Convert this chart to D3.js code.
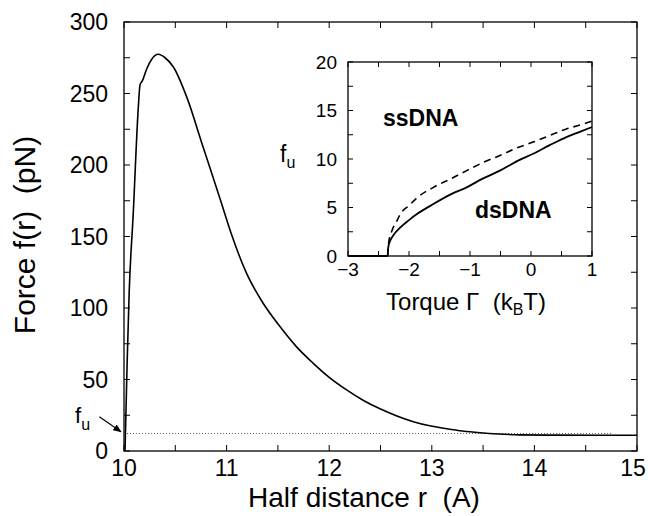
<!DOCTYPE html>
<html>
<head>
<meta charset="utf-8">
<title>Force vs half distance</title>
<style>
  body { margin: 0; background: #fff; }
  svg text { font-family: "Liberation Sans", Arial, Helvetica, sans-serif; fill: #000; }
</style>
</head>
<body>
<svg id="chart" width="648" height="516"></svg>
<script src="https://d3js.org/d3.v7.min.js"></script>
<script>
// main curve: half distance r (A) vs force f(r) (pN)
var distR = [10.01, 10.03, 10.05, 10.09, 10.14, 10.156, 10.18, 10.22, 10.27, 10.334, 10.40, 10.48, 10.61, 10.77, 10.94, 11.05, 11.196, 11.35, 11.52, 11.68, 11.845, 12.0, 12.17, 12.33, 12.495, 12.66, 12.82, 12.98, 13.145, 13.3, 13.47, 13.65, 13.86, 14.2, 14.6, 15.0];
var forceF = [0, 60, 110, 166, 241, 256, 259, 267, 274, 277.4, 275, 268.7, 247.8, 212.8, 175.5, 151, 124, 104, 87, 73, 61.3, 51.5, 42.7, 35.5, 29.5, 24.5, 20.5, 17.6, 15.6, 14, 12.8, 11.9, 11.3, 11.1, 11.0, 11.0];
var fuLevel = 12.2;

// inset: torque vs f_u
var torqueSolid = [-3, -2.35, -2.345, -2.33, -2.31, -2.25, -2.145, -2.0, -1.87, -1.6, -1.3, -1.054, -0.8, -0.51, -0.25, 0.035, 0.3, 0.58, 0.8, 1.0];
var fuSolid = [0, 0, 0.6, 1.2, 1.55, 2.2, 2.93, 3.7, 4.32, 5.36, 6.4, 7.08, 7.95, 8.8, 9.7, 10.54, 11.4, 12.26, 12.8, 13.3];
var torqueDashed = [-2.35, -2.33, -2.28, -2.2, -2.145, -2.0, -1.87, -1.6, -1.3, -1.054, -0.8, -0.51, -0.25, 0.035, 0.3, 0.58, 0.8, 1.0];
var fuDashed = [0, 1.5, 2.6, 3.6, 4.3, 5.2, 6.0, 7.08, 8.0, 8.8, 9.6, 10.36, 11.1, 11.74, 12.4, 13.1, 13.5, 13.9];

var xTicks = [10, 11, 12, 13, 14, 15];
var yTicks = [0, 50, 100, 150, 200, 250, 300];
var inXTicks = [-3, -2, -1, 0, 1];
var inYTicks = [0, 5, 10, 15, 20];

var svg = d3.select('#chart');

var x = d3.scaleLinear().domain([10, 15]).range([124, 637]);
var y = d3.scaleLinear().domain([0, 300]).range([451, 22]);

function frame(g, xs, ys, majX, minX, majY, minY, tl) {
    var x0 = xs.range()[0], x1 = xs.range()[1], y0 = ys.range()[0], y1 = ys.range()[1];
    g.append('rect').attr('x', x0).attr('y', y1).attr('width', x1 - x0).attr('height', y0 - y1)
        .attr('fill', '#fff').attr('stroke', '#000').attr('stroke-width', 1.3);
    var tx = majX.concat(minX), ty = majY.concat(minY);
    tx.forEach(function (v) {
        g.append('line').attr('x1', xs(v)).attr('x2', xs(v)).attr('y1', y0).attr('y2', y0 - tl).attr('stroke', '#000');
        g.append('line').attr('x1', xs(v)).attr('x2', xs(v)).attr('y1', y1).attr('y2', y1 + tl).attr('stroke', '#000');
    });
    ty.forEach(function (v) {
        g.append('line').attr('y1', ys(v)).attr('y2', ys(v)).attr('x1', x0).attr('x2', x0 + tl).attr('stroke', '#000');
        g.append('line').attr('y1', ys(v)).attr('y2', ys(v)).attr('x1', x1).attr('x2', x1 - tl).attr('stroke', '#000');
    });
}

var main = svg.append('g');
frame(main, x, y, xTicks, d3.range(10.5, 15, 1), yTicks, d3.range(25, 300, 50), 6);

main.selectAll('text.xt').data(xTicks).enter().append('text')
    .attr('x', d => Math.min(x(d), 633)).attr('y', 476).attr('text-anchor', 'middle')
    .style('font-size', '23px').text(d => d);
main.selectAll('text.yt').data(yTicks).enter().append('text')
    .attr('x', 108).attr('y', d => y(d)).attr('dy', '0.36em').attr('text-anchor', 'end')
    .style('font-size', '23px').text(d => d);

main.append('text').attr('x', 364).attr('y', 507).attr('text-anchor', 'middle')
    .style('font-size', '28px').text('Half distance r\u00a0\u00a0(A)');
main.append('text').attr('transform', 'translate(35,235) rotate(-90)').attr('text-anchor', 'middle')
    .style('font-size', '30px').text('Force f(r)\u00a0\u00a0(pN)');

// dotted f_u level
main.append('line').attr('x1', x(10.03)).attr('x2', x(14.75)).attr('y1', y(fuLevel)).attr('y2', y(fuLevel))
    .attr('stroke', '#555').attr('stroke-width', 1).attr('stroke-dasharray', '1,2');

var line = d3.line().x(d => x(d[0])).y(d => y(d[1])).curve(d3.curveMonotoneX);
main.append('path').attr('d', line(d3.zip(distR, forceF)))
    .attr('fill', 'none').attr('stroke', '#000').attr('stroke-width', 1.6);

// f_u annotation with arrow
svg.append('defs').append('marker').attr('id', 'ah').attr('viewBox', '0 0 10 10')
    .attr('refX', 9).attr('refY', 5).attr('markerWidth', 7).attr('markerHeight', 7).attr('orient', 'auto')
    .append('path').attr('d', 'M0,1 L10,5 L0,9 z').attr('fill', '#000');
main.append('line').attr('x1', x(9.76)).attr('y1', y(24)).attr('x2', x(9.97)).attr('y2', y(13.5))
    .attr('stroke', '#000').attr('stroke-width', 1.2).attr('marker-end', 'url(#ah)');
var fu = main.append('text').attr('x', 75).attr('y', 423).style('font-size', '22px');
fu.append('tspan').text('f');
fu.append('tspan').attr('dy', 7).style('font-size', '16px').text('u');

// inset
var ix = d3.scaleLinear().domain([-3, 1]).range([348, 592]);
var iy = d3.scaleLinear().domain([0, 20]).range([256, 62]);
var inset = svg.append('g');
frame(inset, ix, iy, inXTicks, d3.range(-2.5, 1, 1), inYTicks, d3.range(2.5, 20, 5), 5);

inset.selectAll('text.ixt').data(inXTicks).enter().append('text')
    .attr('x', d => ix(d)).attr('y', 276).attr('text-anchor', 'middle')
    .style('font-size', '19px').text(d => d < 0 ? '\u2212' + Math.abs(d) : d);
inset.selectAll('text.iyt').data(inYTicks).enter().append('text')
    .attr('x', 337).attr('y', d => iy(d)).attr('dy', '0.36em').attr('text-anchor', 'end')
    .style('font-size', '19px').text(d => d);

var tq = inset.append('text').attr('x', 466).attr('y', 310).attr('text-anchor', 'middle').style('font-size', '24px');
tq.append('tspan').text('Torque \u0393\u00a0\u00a0(k');
tq.append('tspan').attr('dy', 5).style('font-size', '16px').text('B');
tq.append('tspan').attr('dy', -5).text('T)');

var ifu = inset.append('text').attr('x', 280).attr('y', 162).style('font-size', '23px');
ifu.append('tspan').text('f');
ifu.append('tspan').attr('dy', 6).style('font-size', '16px').text('u');

inset.append('text').attr('x', 383).attr('y', 126).style('font-size', '23px').style('font-weight', 'bold').text('ssDNA');
inset.append('text').attr('x', 475).attr('y', 218).style('font-size', '23px').style('font-weight', 'bold').text('dsDNA');

var iline = d3.line().x(d => ix(d[0])).y(d => iy(d[1])).curve(d3.curveMonotoneX);
inset.append('path').attr('d', iline(d3.zip(torqueDashed, fuDashed)))
    .attr('fill', 'none').attr('stroke', '#000').attr('stroke-width', 1.6).attr('stroke-dasharray', '7,5');
inset.append('path').attr('d', iline(d3.zip(torqueSolid, fuSolid)))
    .attr('fill', 'none').attr('stroke', '#000').attr('stroke-width', 1.8);
</script>
</body>
</html>
